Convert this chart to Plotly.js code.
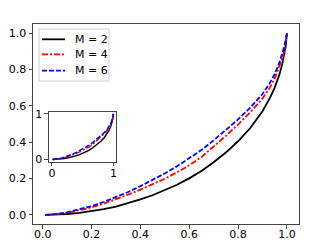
<!DOCTYPE html>
<html>
<head>
<meta charset="utf-8">
<script src="https://cdn.plot.ly/plotly-3.0.1.min.js"></script>
<style>html,body{margin:0;padding:0;background:#fff;}#chart{width:333px;height:250px;}</style>
</head>
<body>
<div id="chart"></div>
<script>
var xs = [0.01, 0.05, 0.1, 0.15, 0.2, 0.25, 0.3, 0.35, 0.4, 0.45, 0.5, 0.55, 0.6, 0.65, 0.7, 0.75, 0.8, 0.85, 0.9, 0.93, 0.95, 0.97, 0.98, 0.99, 0.995, 1.0];
var yM2 = [0.0, 0.001, 0.005, 0.011, 0.02, 0.032, 0.046, 0.064, 0.085, 0.108, 0.135, 0.166, 0.201, 0.242, 0.29, 0.343, 0.405, 0.478, 0.57, 0.642, 0.7, 0.775, 0.825, 0.885, 0.925, 1.0];
var yM4 = [0.0, 0.003, 0.011, 0.024, 0.041, 0.062, 0.086, 0.112, 0.139, 0.168, 0.199, 0.234, 0.273, 0.318, 0.375, 0.435, 0.497, 0.565, 0.64, 0.7, 0.75, 0.815, 0.857, 0.91, 0.945, 1.0];
var yM6 = [0.0, 0.004, 0.014, 0.029, 0.048, 0.071, 0.097, 0.126, 0.158, 0.192, 0.228, 0.267, 0.31, 0.357, 0.41, 0.465, 0.525, 0.59, 0.665, 0.725, 0.775, 0.84, 0.88, 0.93, 0.96, 1.0];
var names = ['M = 2', 'M = 4', 'M = 6'];
var series = [yM2, yM4, yM6];
var colors = ['#000000', '#ff0000', '#0000ff'];
var dashes = ['solid', '6px,2px,2px,2px', '5px,2px'];
var mainTicks = [0, 0.2, 0.4, 0.6, 0.8, 1.0];
var mainTickText = ['0.0', '0.2', '0.4', '0.6', '0.8', '1.0'];
var insetTicks = [0, 1];
var insetTickText = ['0', '1'];

var traces = [];
for (var i = 0; i < 3; i++) {
  traces.push({x: xs, y: series[i], name: names[i], mode: 'lines', type: 'scatter', showlegend: false,
    line: {color: colors[i], width: 1.8, dash: dashes[i]}, xaxis: 'x', yaxis: 'y'});
}
for (var j = 0; j < 3; j++) {
  traces.push({x: xs, y: series[j], name: names[j], mode: 'lines', type: 'scatter', showlegend: false,
    line: {color: colors[j], width: 1.5, dash: dashes[j]}, xaxis: 'x2', yaxis: 'y2'});
}

// hand-built legend (matplotlib-like compact layout)
var shapes = [{type: 'rect', xref: 'paper', yref: 'paper', x0: 0.0226, x1: 0.2857, y0: 0.715, y1: 0.975,
  line: {color: '#d0d0d0', width: 1}, fillcolor: 'rgba(255,255,255,0.8)', layer: 'above'}];
var annotations = [];
var legY = [0.9235, 0.8485, 0.7665];
for (var k = 0; k < 3; k++) {
  shapes.push({type: 'line', xref: 'paper', yref: 'paper', x0: 0.0338, x1: 0.1203, y0: legY[k], y1: legY[k],
    line: {color: colors[k], width: 1.8, dash: dashes[k]}, layer: 'above'});
  annotations.push({xref: 'paper', yref: 'paper', x: 0.1504, y: legY[k], xanchor: 'left', yanchor: 'middle',
    text: names[k], showarrow: false, font: {family: 'DejaVu Sans', size: 11, color: '#000'}});
}

var fnt = {family: 'DejaVu Sans', size: 11, color: '#000'};
var axBase = {showgrid: false, zeroline: false, showline: true, mirror: true, linecolor: '#444', linewidth: 1,
  ticks: 'outside', ticklen: 3.5, tickwidth: 1, tickcolor: '#444', tickfont: fnt};
var layout = {
  width: 333, height: 250,
  margin: {l: 33, r: 34, t: 24, b: 26, pad: 0},
  paper_bgcolor: '#fff', plot_bgcolor: 'rgba(0,0,0,0)',
  font: fnt,
  showlegend: false,
  shapes: shapes,
  annotations: annotations,
  xaxis: Object.assign({}, axBase, {domain: [0, 1], range: [-0.0395, 1.0495], tickvals: mainTicks, ticktext: mainTickText, ticklabelstandoff: -4}),
  yaxis: Object.assign({}, axBase, {domain: [0, 1], range: [-0.05, 1.05], tickvals: mainTicks, ticktext: mainTickText}),
  xaxis2: Object.assign({}, axBase, {domain: [0.06, 0.312], range: [-0.049, 1.042], tickvals: insetTicks, ticktext: insetTickText, anchor: 'y2', ticklabelstandoff: -3}),
  yaxis2: Object.assign({}, axBase, {domain: [0.311, 0.562], range: [-0.05, 1.05], tickvals: insetTicks, ticktext: insetTickText, anchor: 'x2'})
};
Plotly.newPlot('chart', traces, layout, {staticPlot: true, displayModeBar: false});
</script>
</body>
</html>
